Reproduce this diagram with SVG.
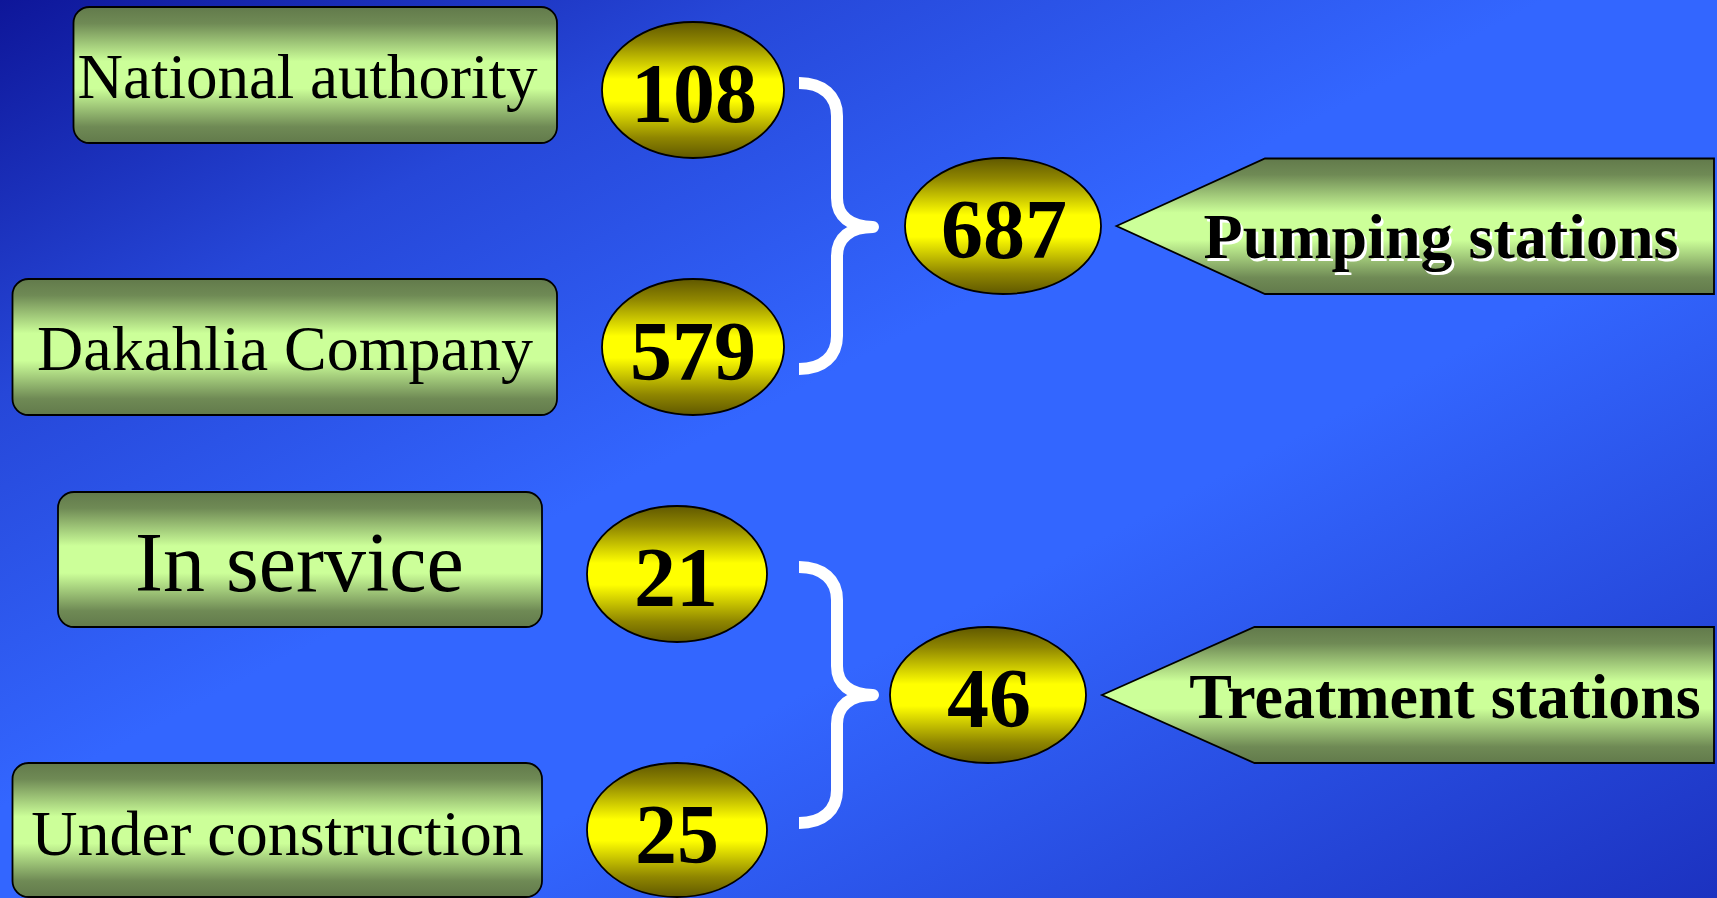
<svg xmlns="http://www.w3.org/2000/svg" width="1717" height="898" viewBox="0 0 1717 898">
  <defs>
    <linearGradient id="bg" x1="0" y1="0" x2="1" y2="1">
      <stop offset="0" stop-color="#0e1699"/>
      <stop offset="0.22" stop-color="#2647d8"/>
      <stop offset="0.45" stop-color="#3366ff"/>
      <stop offset="0.62" stop-color="#3366ff"/>
      <stop offset="1" stop-color="#1c32c0"/>
    </linearGradient>
    <linearGradient id="greenFill" x1="0" y1="0" x2="0" y2="1">
      <stop offset="0" stop-color="#627a4b"/>
      <stop offset="0.12" stop-color="#6f8a55"/>
      <stop offset="0.4" stop-color="#ccff99"/>
      <stop offset="0.6" stop-color="#ccff99"/>
      <stop offset="0.88" stop-color="#6f8a55"/>
      <stop offset="1" stop-color="#627a4b"/>
    </linearGradient>
    <linearGradient id="yellowFill" x1="0" y1="0" x2="0" y2="1">
      <stop offset="0" stop-color="#605800"/>
      <stop offset="0.15" stop-color="#8f8600"/>
      <stop offset="0.42" stop-color="#ffff00"/>
      <stop offset="0.58" stop-color="#ffff00"/>
      <stop offset="0.85" stop-color="#8f8600"/>
      <stop offset="1" stop-color="#605800"/>
    </linearGradient>
  </defs>
  <style>
    .box { fill: url(#greenFill); stroke: #000; stroke-width: 1.8; }
    .oval { fill: url(#yellowFill); stroke: #000; stroke-width: 1.8; }
    .lbl { font-family: "Liberation Serif", "Times New Roman", serif; fill: #000; text-anchor: middle; }
    .num { font-family: "Liberation Serif", "Times New Roman", serif; font-weight: bold; font-size: 84px; fill: #000; text-anchor: middle; }
    .head { font-family: "Liberation Serif", "Times New Roman", serif; font-weight: bold; font-size: 64px; text-anchor: middle; }
    .brace { fill: none; stroke: #ffffff; stroke-width: 12; stroke-linecap: butt; stroke-linejoin: round; }
  </style>

  <!-- background -->
  <rect x="0" y="0" width="1717" height="898" fill="url(#bg)"/>

  <!-- braces grouping the counts -->
  <g id="connectors">
    <path class="brace" d="M799,83 C823,83 837,96 837,116 L837,198 C837,216 850,227 873,227 C850,227 837,238 837,256 L837,336 C837,356 823,369 799,369"/>
    <path class="brace" d="M799,567 C823,567 837,580 837,600 L837,666 C837,684 850,695 873,695 C850,695 837,706 837,724 L837,790 C837,810 823,823 799,823"/>
  </g>

  <!-- owner boxes -->
  <g id="national-authority">
    <rect class="box" x="73.5" y="7" width="483.5" height="136" rx="16"/>
    <text class="lbl" x="307.5" y="98" font-size="63">National authority</text>
  </g>
  <g id="dakahlia-company">
    <rect class="box" x="12.5" y="279" width="544.5" height="136" rx="16"/>
    <text class="lbl" x="285" y="370" font-size="64">Dakahlia Company</text>
  </g>
  <g id="in-service">
    <rect class="box" x="58" y="492" width="484" height="135" rx="16"/>
    <text class="lbl" x="299.5" y="591" font-size="84">In service</text>
  </g>
  <g id="under-construction">
    <rect class="box" x="12.5" y="763" width="529.5" height="134" rx="16"/>
    <text class="lbl" x="277.5" y="855" font-size="64">Under construction</text>
  </g>

  <!-- counts -->
  <g id="count-108">
    <ellipse class="oval" cx="693" cy="90" rx="91" ry="68"/>
    <text class="num" x="694" y="122">108</text>
  </g>
  <g id="count-579">
    <ellipse class="oval" cx="693" cy="347" rx="91" ry="68"/>
    <text class="num" x="693" y="380">579</text>
  </g>
  <g id="count-687">
    <ellipse class="oval" cx="1003" cy="226" rx="98" ry="68"/>
    <text class="num" x="1004" y="258">687</text>
  </g>
  <g id="count-21">
    <ellipse class="oval" cx="677" cy="574" rx="90" ry="68"/>
    <text class="num" x="676" y="606">21</text>
  </g>
  <g id="count-25">
    <ellipse class="oval" cx="677" cy="830" rx="90" ry="67"/>
    <text class="num" x="677" y="863">25</text>
  </g>
  <g id="count-46">
    <ellipse class="oval" cx="988" cy="695" rx="98" ry="68"/>
    <text class="num" x="989" y="727">46</text>
  </g>

  <!-- category arrows -->
  <g id="pumping-stations">
    <polygon class="box" points="1116.5,226 1265,158.5 1714,158.5 1714,294 1265,294"/>
    <text class="head" x="1443.5" y="260.5" fill="#ffffff">Pumping stations</text>
    <text class="head" x="1441" y="258" fill="#000000">Pumping stations</text>
  </g>
  <g id="treatment-stations">
    <polygon class="box" points="1102,695 1254.5,627 1714,627 1714,763 1254.5,763"/>
    <text class="head" x="1445" y="718" fill="#000000">Treatment stations</text>
  </g>
</svg>
